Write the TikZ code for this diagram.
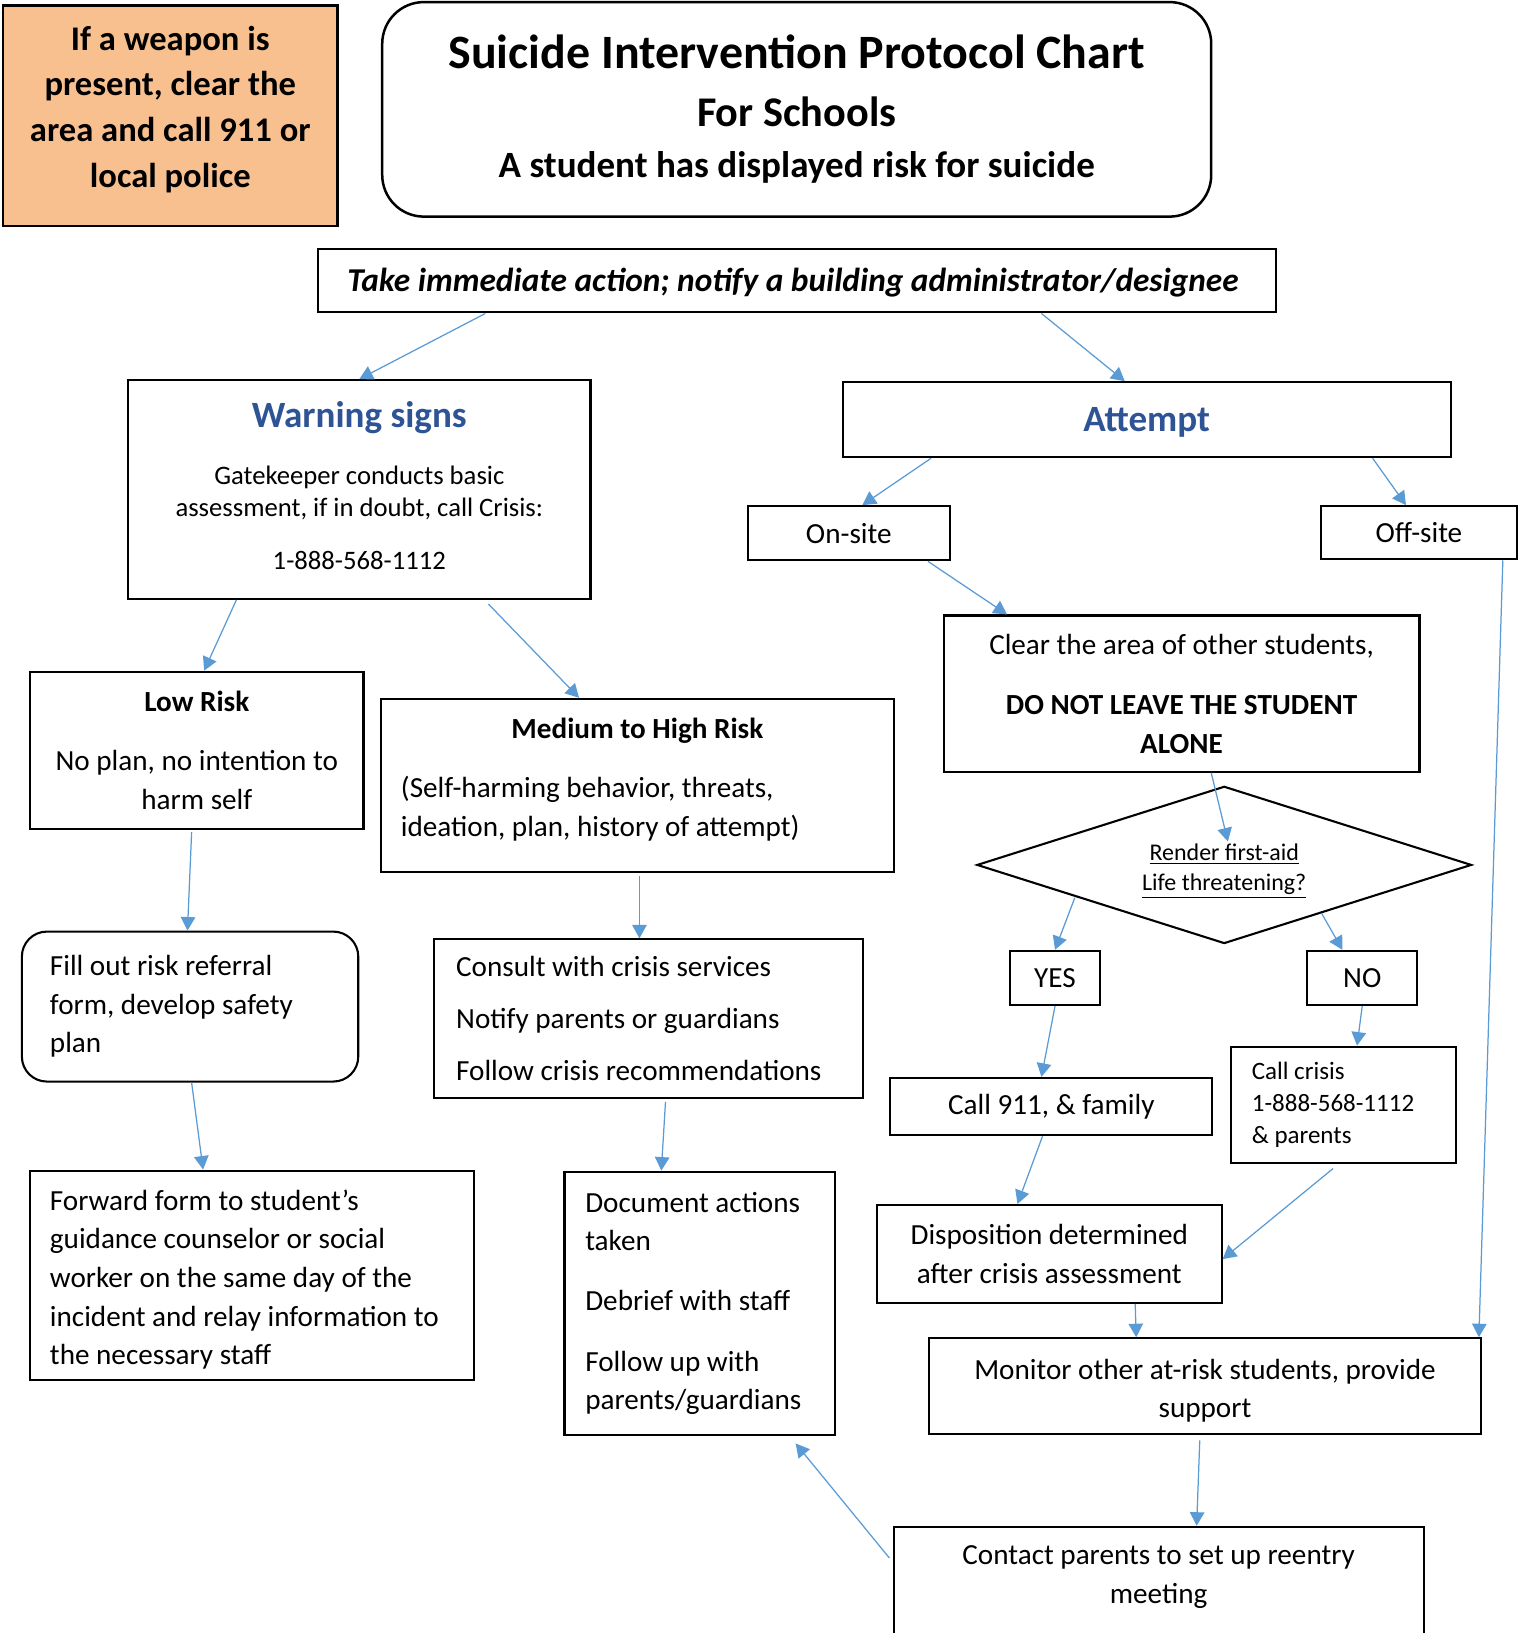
\documentclass[tikz,border=0pt]{standalone}
\usepackage{fontspec}
\setmainfont{Carlito}
\usetikzlibrary{shapes.geometric, arrows.meta}
\definecolor{weapon}{HTML}{F8C08F}
\definecolor{signblue}{HTML}{2F5496}
\definecolor{linkblue}{HTML}{5B9BD5}
\newcommand{\bodysize}{\fontsize{14pt}{18.5pt}\selectfont}
\newcommand{\gatesize}{\fontsize{12.8pt}{15.5pt}\selectfont}
\newcommand{\crisissize}{\fontsize{12pt}{15.25pt}\selectfont}
\newcommand{\asksize}{\fontsize{11.5pt}{14.5pt}\selectfont}
\newcommand{\headsize}{\fontsize{17.8pt}{22pt}\selectfont\bfseries}
\newcommand{\weaponsize}{\fontsize{16.6pt}{22pt}\selectfont\bfseries}
\newcommand{\padbelow}[1]{\rule[-#1]{0pt}{0pt}}
\newcommand{\padabove}[1]{\rule{0pt}{#1}}
\tikzset{
box/.style={
       rectangle,
       draw=black,
       line width=1pt,
       inner sep=0pt,
       align=center,
%       rounded corners,
       font=\bodysize,
       },
leftbox/.style={box, align=flush left},
decision/.style={
       diamond,
       draw=black,
       line width=1pt,
       aspect=3.15,
       inner sep=0pt,
       align=center,
       font=\asksize,
       },
link/.style={draw=linkblue, line width=0.6pt, -{Triangle[width=7pt,length=6.5pt]}},
}

\begin{document}
\begin{tikzpicture}[x=0.5pt, y=-0.5pt]
    \useasboundingbox (0,0) rectangle (1465,1568);

    % Top row
    \node [box, fill=weapon, line width=1.3pt, minimum width=160.5pt, minimum height=106pt, font=\weaponsize] (weapon) at (163.5,111) {
                If a weapon is\\present, clear the\\area and call 911 or\\local police\padbelow{8.5pt}
            };
    \node [box, rounded corners=20pt, line width=1.2pt, minimum width=398pt, minimum height=103pt,
           font=\fontsize{17.8pt}{24pt}\selectfont\bfseries] (title) at (765,105) {
                {\fontsize{23pt}{24pt}\selectfont Suicide Intervention Protocol Chart}\\[3.6pt]
                {\fontsize{20.3pt}{24pt}\selectfont For Schools}\\[0.6pt]
                A student has displayed risk for suicide
            };
    \node [box, minimum width=460pt, minimum height=30.5pt, font=\fontsize{16pt}{20pt}\selectfont\bfseries\itshape] (take) at (765,269.5) {
                \padabove{13pt}Take immediate action; notify a building administrator/designee
            };

    % Warning signs branch
    \node [box, minimum width=222pt, minimum height=105pt, font=\gatesize] (warn) at (345,470) {
                {\headsize\color{signblue}Warning signs}\\[11.8pt]
                Gatekeeper conducts basic\\
                assessment, if in doubt, call Crisis:\\[10pt]
                1-888-568-1112\padbelow{3.5pt}
            };
    \node [box, minimum width=160pt, minimum height=75.5pt] (low) at (189,720.5) {
                \textbf{Low Risk}\\[10pt]No plan, no intention to\\harm self
            };
    \node [leftbox, text width=227pt, minimum width=246pt, minimum height=83pt] (med) at (612,754) {
                \makebox[227pt]{\textbf{Medium to High Risk}}\\[10pt]
                (Self-harming behavior, threats,\\
                ideation, plan, history of attempt)\padbelow{8pt}
            };
    \node [leftbox, rounded corners=12pt, text width=134.5pt, minimum width=161.5pt, minimum height=72pt] (fill) at (182.5,966.5) {
                Fill out risk referral\\form, develop safety\\plan
            };
    \node [leftbox, text width=185pt, minimum width=206pt, minimum height=76pt] (consult) at (623,978) {
                Consult with crisis services\\[6.5pt]
                Notify parents or guardians\\[6.5pt]
                Follow crisis recommendations
            };
    \node [leftbox, text width=194pt, minimum width=213pt, minimum height=100.5pt] (forward) at (242,1224.5) {
                \padabove{14pt}Forward form to student’s\\guidance counselor or social\\worker on the same day of the\\incident and relay information to\\the necessary staff
            };
    \node [leftbox, text width=110pt, minimum width=130pt, minimum height=126.5pt] (doc) at (672,1251.5) {
                Document actions\\taken\\[10.5pt]
                Debrief with staff\\[10.5pt]
                Follow up with\\parents/guardians
            };

    % Attempt branch
    \node [box, minimum width=292pt, minimum height=36pt, font=\headsize, text=signblue] (attempt) at (1101,403) {\padabove{14pt}Attempt};
    \node [box, minimum width=97pt, minimum height=26pt] (onsite) at (815,512) {On-site};
    \node [box, minimum width=94.5pt, minimum height=25.5pt] (offsite) at (1362.5,511.5) {Off-site};
    \node [box, minimum width=228.5pt, minimum height=75pt] (clear) at (1134.5,666) {
                Clear the area of other students,\\[10.5pt]
                \textbf{DO NOT LEAVE THE STUDENT}\\
                \textbf{ALONE}
            };
    \node [decision, minimum width=237.5pt, minimum height=75.5pt] (diamond) at (1175.5,830.5) {
                \padabove{14pt}\underline{Render first-aid}\\\underline{Life threatening?}
            };
    \node [box, minimum width=43pt, minimum height=26pt] (yes) at (1013,939) {YES};
    \node [box, minimum width=53pt, minimum height=26pt] (no) at (1308,939) {NO};
    \node [leftbox, text width=88pt, minimum width=108pt, minimum height=56pt, font=\crisissize] (crisis) at (1290,1061) {
                Call crisis\\1-888-568-1112\\\& parents
            };
    \node [box, minimum width=154.5pt, minimum height=27.5pt] (call911) at (1009.5,1062.5) {Call 911, \& family};
    \node [box, minimum width=165.5pt, minimum height=47pt] (dispo) at (1007.5,1204) {
                Disposition determined\\after crisis assessment
            };
    \node [box, minimum width=265pt, minimum height=46pt] (monitor) at (1157,1331) {
                \padabove{14pt}Monitor other at-risk students, provide\\support
            };
    \node [box, anchor=north, minimum width=254.5pt, inner ysep=9.2pt] (contact) at (1112.5,1465) {
                Contact parents to set up reentry\\meeting\padbelow{60pt}
            };

    % Draw arrows
    \draw[link] ([xshift=-149.5pt]take.south) -- (warn.north);
    \draw[link] ([xshift=117.5pt]take.south) -- ([xshift=-10.5pt]attempt.north);
    \draw[link] ([xshift=-59pt]warn.south) -- ([xshift=3.5pt]low.north);
    \draw[link] ([xshift=62pt,yshift=-2pt]warn.south) -- ([xshift=-28pt]med.north);
    \draw[link] ([xshift=-2.5pt,yshift=-1pt]low.south) -- ([xshift=-1.25pt]fill.north);
    \draw[link] ([xshift=1pt,yshift=-1.5pt]med.south) -- ([xshift=-4.5pt]consult.north);
    \draw[link] ([xshift=.75pt]fill.south) -- ([xshift=-23.5pt]forward.north);
    \draw[link] ([xshift=8pt,yshift=-1.5pt]consult.south) -- ([xshift=-18.5pt]doc.north);
    \draw[link] ([xshift=-103.5pt]attempt.south) -- ([xshift=6.5pt]onsite.north);
    \draw[link] ([xshift=108.5pt]attempt.south) -- ([xshift=-6.25pt]offsite.north);
    \draw[link] ([xshift=38pt]onsite.south) -- ([xshift=-83.75pt]clear.north);
    \draw[link] ([xshift=40.25pt]offsite.south) -- ([xshift=131.5pt]monitor.north);
    \draw[link] ([xshift=14.25pt]clear.south) -- ([xshift=1.75pt,yshift=11.25pt]diamond.center);
    \draw[link] ([xshift=-71.75pt,yshift=-15.75pt]diamond.center) -- (yes.north);
    \draw[link] ([xshift=46.75pt,yshift=-23.25pt]diamond.center) -- ([xshift=-9.5pt]no.north);
    \draw[link] (yes.south) -- ([xshift=-4.75pt]call911.north);
    \draw[link] (no.south) -- ([xshift=6.5pt]crisis.north);
    \draw[link] ([xshift=-4.25pt]call911.south) -- ([xshift=-15.25pt]dispo.north);
    \draw[link] ([xshift=-5pt,yshift=-2pt]crisis.south) -- ([yshift=-2.5pt]dispo.east);
    \draw[link] ([xshift=41.25pt]dispo.south) -- ([xshift=-33pt]monitor.north);
    \draw[link] ([xshift=-2.5pt,yshift=-2.5pt]monitor.south) -- ([xshift=18.25pt]contact.north);
    \draw[link] ([xshift=-1.5pt,yshift=-15.5pt]contact.north west) -- ([xshift=-19.5pt,yshift=-3.5pt]doc.south east);
\end{tikzpicture}
\end{document}
